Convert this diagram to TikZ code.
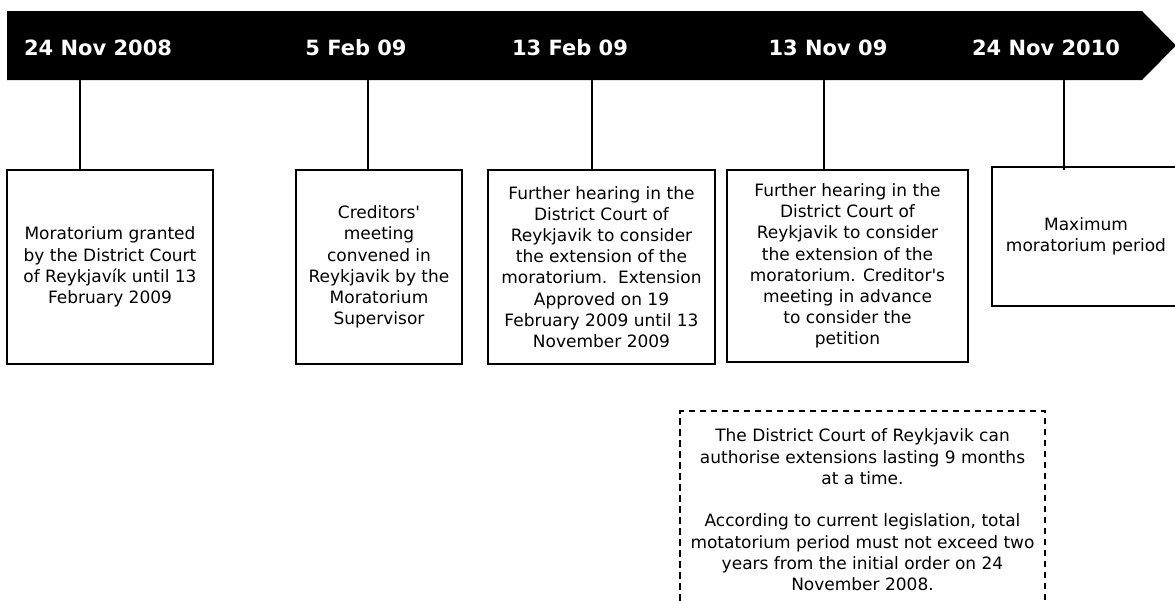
\documentclass[tikz,border=0pt]{standalone}
\usepackage{fontspec}
\setmainfont{DejaVu Sans}
\begin{document}
\begin{tikzpicture}[x=1pt,y=-1pt,
  box/.style={draw, line width=1.8pt, align=center, inner sep=0pt,
    font=\fontsize{17}{21.2}\selectfont},
  notebox/.style={draw, line width=1.3pt, dash pattern=on 6.5pt off 4.5pt,
    align=center, inner sep=0pt, font=\fontsize{17}{21.3}\selectfont},
  conn/.style={line width=1.3pt},
  hdr/.style={text=white, font=\bfseries\fontsize{21}{25}\selectfont,
    anchor=base, inner sep=0pt}]
\useasboundingbox (0,0) rectangle (1175,600);
\clip (0,0) rectangle (1175,600);
% banner
\fill[black] (7,11) -- (1142,11) -- (1176,45.5) -- (1142,80) -- (7,80) -- cycle;
\node[hdr] (h1) at (98,55) {24 Nov 2008};
\node[hdr] (h2) at (356,55) {5 Feb 09};
\node[hdr] (h3) at (570,55) {13 Feb 09};
\node[hdr] (h4) at (828,55) {13 Nov 09};
\node[hdr] (h5) at (1046,55) {24 Nov 2010};
\coordinate (t1) at (80,80);
\coordinate (t2) at (368,80);
\coordinate (t3) at (592,80);
\coordinate (t4) at (824,80);
\coordinate (t5) at (1064,80);
% boxes
\node[box, minimum width=206pt, minimum height=194pt] (b1) at (110,267)
  {Moratorium granted\\by the District Court\\of Reykjavík until 13\\February 2009};
\node[box, minimum width=166pt, minimum height=194pt] (b2) at (379,267)
  {Creditors\textquotesingle\\meeting\\convened in\\Reykjavik by the\\Moratorium\\Supervisor};
\node[box, minimum width=227pt, minimum height=194pt] (b3) at (601.5,267)
  {Further hearing in the\\District Court of\\Reykjavik to consider\\the extension of the\\moratorium.\ \ Extension\\Approved on 19\\February 2009 until 13\\November 2009};
\node[box, minimum width=241pt, minimum height=192pt] (b4) at (847.5,266)
  {Further hearing in the\\District Court of\\Reykjavik to consider\\the extension of the\\moratorium. Creditor\textquotesingle s\\meeting in advance\\to consider the\\petition};
\node[box, minimum width=188pt, minimum height=139pt] (b5) at (1086,236.5)
  {Maximum\\moratorium period};
% connectors
\draw[conn] (t1) -- (t1 |- b1.north);
\draw[conn] (t2) -- (t2 |- b2.north);
\draw[conn] (t3) -- (t3 |- b3.north);
\draw[conn] (t4) -- (t4 |- b4.north);
\draw[conn] (t5) -- ([yshift=-4pt]t5 |- b5.north);
% note
\node[notebox, minimum width=365pt, minimum height=198pt] (n) at (862.5,510)
  {The District Court of Reykjavik can\\authorise extensions lasting 9 months\\at a time.\\[21.3pt]According to current legislation, total\\motatorium period must not exceed two\\years from the initial order on 24\\November 2008.};
\end{tikzpicture}
\end{document}
